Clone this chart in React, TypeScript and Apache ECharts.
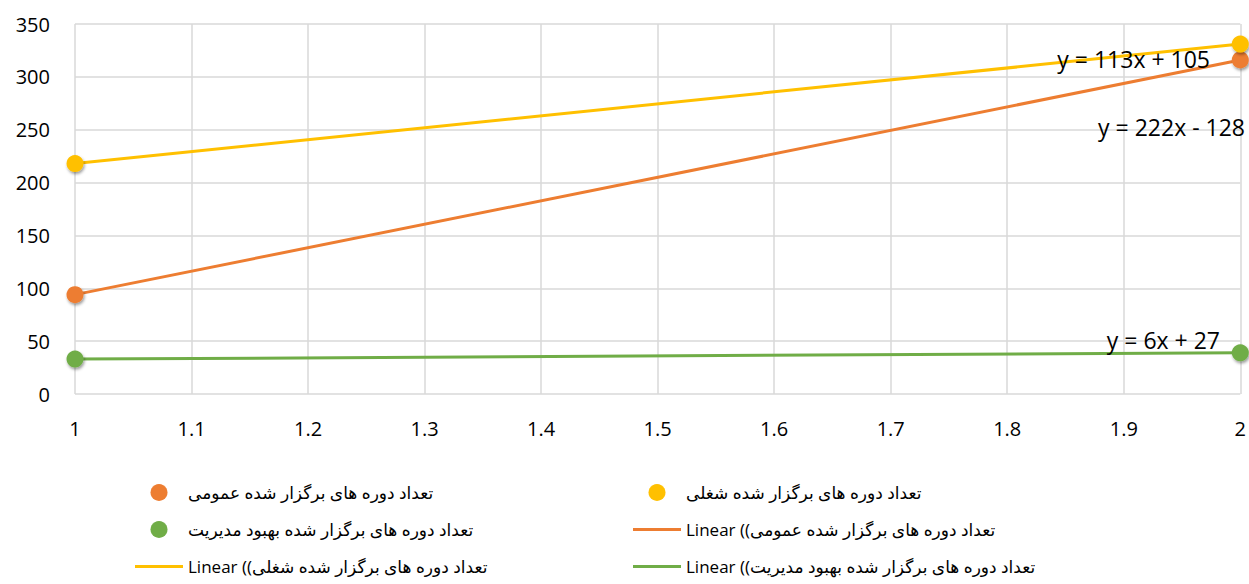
import React, { useEffect, useRef } from "react";
import * as echarts from "echarts";

const xValues = [1, 2];
const generalCourses = [94, 316];
const jobCourses = [218, 331];
const managementCourses = [33, 39];

const nameGeneral = "تعداد دوره های برگزار شده عمومی";
const nameJob = "تعداد دوره های برگزار شده شغلی";
const nameManagement = "تعداد دوره های برگزار شده بهبود مدیریت";
const trendName = (n: string) => "Linear (\u2067" + n + ")\u2069";

const xTicks = { min: 1, max: 2, interval: 0.1 };
const yTicks = { min: 0, max: 350, interval: 50 };

const colors = { general: "#ED7D31", job: "#FFC000", management: "#70AD47" };

function fit(xs: number[], ys: number[]) {
  const n = xs.length;
  const mx = xs.reduce((a, b) => a + b, 0) / n;
  const my = ys.reduce((a, b) => a + b, 0) / n;
  let sxy = 0, sxx = 0;
  for (let i = 0; i < n; i++) {
    sxy += (xs[i] - mx) * (ys[i] - my);
    sxx += (xs[i] - mx) ** 2;
  }
  const slope = sxy / sxx;
  const intercept = my - slope * mx;
  return { slope, intercept };
}

function eqText(f: { slope: number; intercept: number }) {
  const s = Math.round(f.slope);
  const b = Math.round(f.intercept);
  return `y = ${s}x ${b < 0 ? "-" : "+"} ${Math.abs(b)}`;
}

export default function App() {
  const ref = useRef<HTMLDivElement>(null);
  useEffect(() => {
    if (!ref.current) return;
    const chart = echarts.init(ref.current, null, { renderer: "svg" });
    const font = "'Open Sans', 'DejaVu Sans', sans-serif";
    const sets = [
      { name: nameGeneral, data: generalCourses, color: colors.general },
      { name: nameJob, data: jobCourses, color: colors.job },
      { name: nameManagement, data: managementCourses, color: colors.management },
    ];
    const fits = sets.map((s) => fit(xValues, s.data));
    const xmin = xValues[0];
    const xmax = xValues[xValues.length - 1];

    const lineSeries = sets.map((s, i) => ({
      type: "line",
      name: trendName(s.name),
      data: [
        [xmin, fits[i].slope * xmin + fits[i].intercept],
        [xmax, fits[i].slope * xmax + fits[i].intercept],
      ],
      showSymbol: false,
      symbol: "none",
      lineStyle: { color: s.color, width: 3 },
      itemStyle: { color: s.color },
      z: 2,
    }));
    const scatterSeries = sets.map((s) => ({
      type: "scatter",
      name: s.name,
      data: xValues.map((x, j) => [x, s.data[j]]),
      symbolSize: 17,
      itemStyle: {
        color: s.color,
        opacity: 1,
        shadowBlur: 3,
        shadowColor: "rgba(0,0,0,0.4)",
        shadowOffsetX: 1,
        shadowOffsetY: 2,
      },
      z: 3,
    }));

    const lineIcon = "path://M0 0H48V3H0Z";
    const legendCommon = {
      orient: "vertical",
      top: 484,
      padding: 0,
      itemWidth: 48,
      itemHeight: 17,
      itemGap: 20,
      selectedMode: false,
      itemStyle: { opacity: 1, shadowBlur: 0 },
      textStyle: { fontFamily: font, fontSize: 17, color: "#000" },
    };

    chart.setOption({
      animation: false,
      grid: { left: 75, right: 7, top: 24, bottom: 190, containLabel: false },
      xAxis: {
        type: "value",
        ...xTicks,
        axisLine: { show: false },
        axisTick: { show: false },
        splitLine: { show: true, lineStyle: { color: "#d9d9d9", width: 1.5 } },
        axisLabel: {
          margin: 24,
          fontFamily: font,
          fontSize: 20,
          color: "#000",
          formatter: (v: number) => String(Number(v.toFixed(1))),
        },
      },
      yAxis: {
        type: "value",
        ...yTicks,
        axisLine: { show: false },
        axisTick: { show: false },
        splitLine: { show: true, lineStyle: { color: "#d9d9d9", width: 1.5 } },
        axisLabel: { margin: 25, fontFamily: font, fontSize: 20, color: "#000" },
      },
      legend: [
        {
          ...legendCommon,
          left: 135,
          data: [
            { name: sets[0].name, icon: "circle" },
            { name: sets[2].name, icon: "circle" },
            { name: trendName(sets[1].name), icon: lineIcon },
          ],
        },
        {
          ...legendCommon,
          left: 633,
          data: [
            { name: sets[1].name, icon: "circle" },
            { name: trendName(sets[0].name), icon: lineIcon },
            { name: trendName(sets[2].name), icon: lineIcon },
          ],
        },
      ],
      graphic: [
        { type: "text", x: 1210, y: 59, style: { text: eqText(fits[1]), align: "right", verticalAlign: "middle", font: `23px ${font}`, fill: "#000" }, z: 10 },
        { type: "text", x: 1245, y: 127, style: { text: eqText(fits[0]), align: "right", verticalAlign: "middle", font: `23px ${font}`, fill: "#000" }, z: 10 },
        { type: "text", x: 1220, y: 340, style: { text: eqText(fits[2]), align: "right", verticalAlign: "middle", font: `23px ${font}`, fill: "#000" }, z: 10 },
      ],
      series: [...lineSeries, ...scatterSeries],
    });
    return () => chart.dispose();
  }, []);
  return (
    <div
      ref={ref}
      style={{ position: "fixed", left: 0, top: 0, width: 1249, height: 584, background: "#fff" }}
    />
  );
}
